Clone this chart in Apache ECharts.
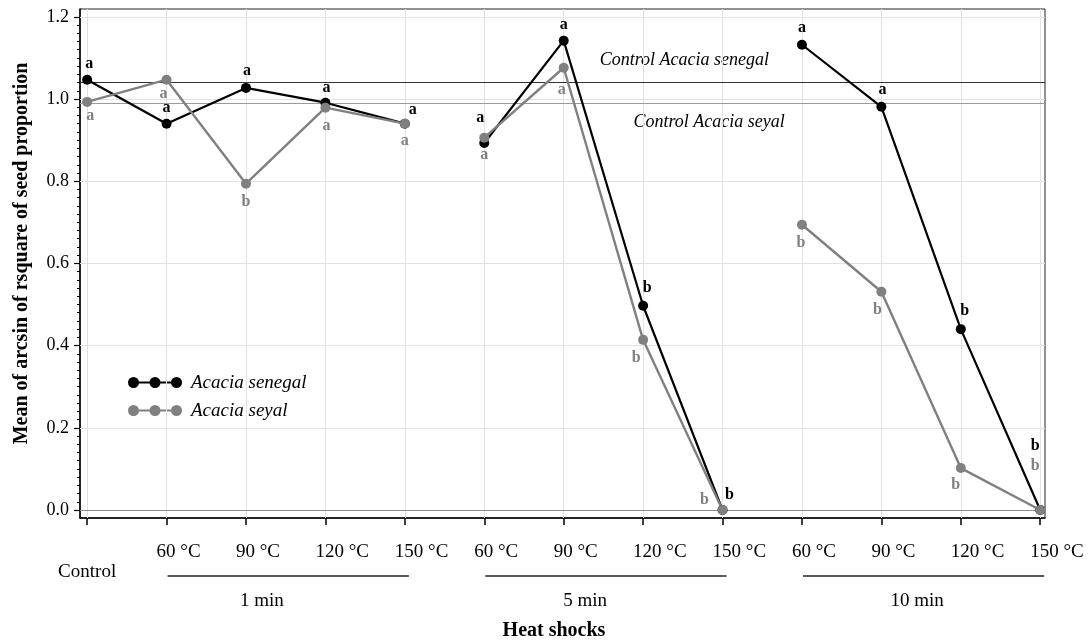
<!DOCTYPE html>
<html>
<head>
<meta charset="utf-8">
<script src="https://cdn.jsdelivr.net/npm/echarts@6/dist/echarts.min.js"></script>
<style>
html,body{margin:0;padding:0;background:#fff;}
#chart{width:1090px;height:643px;}
</style>
</head>
<body>
<div id="chart"></div>
<script>
// ---- data ----
const categories = ['Control','60 °C','90 °C','120 °C','150 °C','60 °C','90 °C','120 °C','150 °C','60 °C','90 °C','120 °C','150 °C'];
const groupNames = ['1 min','5 min','10 min'];
const groupRanges = [[0,4],[5,8],[9,12]];           // category index ranges of the connected lines
const groupLabelRanges = [[1,4],[5,8],[9,12]];      // categories under each group bar
const senegal = [1.047,0.94,1.027,0.991,0.94, 0.893,1.142,0.497,0.0, 1.132,0.981,0.44,0.0];
const seyal   = [0.993,1.047,0.794,0.979,0.94, 0.906,1.076,0.414,0.0, 0.694,0.531,0.102,0.0];
const senegalLetters = ['a','a','a','a','a','a','a','b','b','a','a','b','b'];
const seyalLetters   = ['a','a','b','a','a','a','a','b','b','b','b','b','b'];
const controlSenegal = 1.045;
const controlSeyal = 0.99;
const yTicks = [0,0.2,0.4,0.6,0.8,1.0,1.2];

// ---- style: label offsets (pixels from point centre), group label anchors ----
const senegalLabelOffsets = [[2,-16],[0,-16],[1,-17],[1,-15],[8,-14],[-4,-25],[0,-16],[4,-18],[7,-15],[0,-17],[1,-17],[4,-18],[-5,-64]];
const seyalLabelOffsets   = [[3,14],[-3,14],[0,18],[1,18],[0,17],[0,17],[-2,22],[-7,18],[-18,-10],[-1,18],[-4,18],[-5,17],[-5,-44]];
const groupLabelAnchor = [1.2, 1.27, 1.45];

const FONT = '"Liberation Serif","DejaVu Serif",serif';
const BLACK = '#000000';
const GRAY = '#808080';

const minorTicks = [];
for (let i = 0; i <= 60; i++) { if (i % 10 !== 0) minorTicks.push(+(i*0.02).toFixed(2)); }
const catIdx = categories.map((c,i)=>i);
// tick labels after Control are left aligned slightly left of their tick
const labelValues = catIdx.slice(1).map(i => i-0.126);

function buildSeries(name, values, letters, offsets, color, lw) {
  return groupRanges.map(([a,b]) => {
    const data = [];
    for (let i=a;i<=b;i++) {
      data.push({
        value:[i, values[i]],
        label:{show:true, formatter:letters[i], position:'inside', offset:offsets[i]}
      });
    }
    return {
      name: name, type:'line', data: data, symbol:'circle', symbolSize:10,
      clip:false, z:5,
      lineStyle:{color:color, width:lw}, itemStyle:{color:color},
      label:{color:color, fontFamily:FONT, fontSize:16, fontWeight:'bold'},
      emphasis:{disabled:true}, animation:false
    };
  });
}

const gridLines = [];
catIdx.forEach(i => gridLines.push({xAxis:i}));
yTicks.slice(1).forEach(v => gridLines.push({yAxis:v}));

const helper = {
  type:'line', data:[], silent:true, z:1, animation:false,
  markLine:{
    silent:true, symbol:'none', animation:false,
    label:{show:false},
    lineStyle:{color:'#e2e2e2', type:'solid', width:1},
    data: gridLines.concat([
      {yAxis:0, lineStyle:{color:'#8c8c8c', width:1.2}},
      {yAxis:controlSenegal, lineStyle:{color:'#333333', width:1.2}},
      {yAxis:controlSeyal, lineStyle:{color:'#9a9a9a', width:1.2}}
    ])
  }
};

const legendIcon = 'path://M0,5.5A5.5,5.5 0 1,0 11,5.5A5.5,5.5 0 1,0 0,5.5Z M21.5,5.5A5.5,5.5 0 1,0 32.5,5.5A5.5,5.5 0 1,0 21.5,5.5Z M43,5.5A5.5,5.5 0 1,0 54,5.5A5.5,5.5 0 1,0 43,5.5Z M5,4.4L5,6.6L49,6.6L49,4.4Z';

const chart = echarts.init(document.getElementById('chart'), null, {renderer:'canvas'});
const option = {
  animation:false,
  backgroundColor:'#ffffff',
  grid:{left:80, right:45, top:9, bottom:125, containLabel:false, outerBoundsMode:'none',
        show:true, borderColor:'#222', borderWidth:1, backgroundColor:'transparent'},
  legend:{
    left:120, top:367, orient:'vertical', itemWidth:54, itemHeight:11, itemGap:9,
    padding:[6,8,6,8], backgroundColor:'#ffffff',
    data:[
      {name:'Acacia senegal', icon:legendIcon, itemStyle:{color:BLACK}},
      {name:'Acacia seyal', icon:legendIcon, itemStyle:{color:GRAY}}
    ],
    textStyle:{fontFamily:FONT, fontSize:19, fontStyle:'italic', color:'#000', padding:[0,0,0,4]},
    selectedMode:false
  },
  xAxis:{
    type:'value', min:-0.09, max:12.06,
    axisLine:{show:true, onZero:false, lineStyle:{color:'#000', width:1.5}},
    axisTick:{show:true, length:7, customValues:catIdx, lineStyle:{color:'#000', width:1.5}},
    axisLabel:{
      customValues:labelValues, align:'left', margin:25,
      fontFamily:FONT, fontSize:19, color:'#000',
      formatter:(v)=>categories[Math.round(v)]
    },
    splitLine:{show:false}
  },
  yAxis:[{
    type:'value', min:-0.0195, max:1.219,
    name:'Mean of arcsin of rsquare of seed proportion', nameLocation:'middle', nameGap:48,
    nameTextStyle:{fontFamily:FONT, fontSize:20, fontWeight:'bold', color:'#000', padding:[0,0,0,20]},
    axisLine:{show:true, onZero:false, lineStyle:{color:'#000', width:1.5}},
    axisTick:{show:true, length:6, customValues:yTicks, lineStyle:{color:'#000', width:1.2}},
    axisLabel:{customValues:yTicks, margin:11, fontFamily:FONT, fontSize:18, color:'#000',
      formatter:(v)=>v.toFixed(1)},
    splitLine:{show:false}
  },{
    type:'value', min:-0.0195, max:1.219, position:'left',
    axisLine:{show:false, onZero:false},
    axisTick:{show:true, length:3, customValues:minorTicks, lineStyle:{color:'#000', width:1}},
    axisLabel:{show:false},
    splitLine:{show:false}
  }],
  series:[helper]
    .concat(buildSeries('Acacia senegal', senegal, senegalLetters, senegalLabelOffsets, BLACK, 2.2))
    .concat(buildSeries('Acacia seyal', seyal, seyalLetters, seyalLabelOffsets, GRAY, 2.4))
};
chart.setOption(option);

// ---- Control tick label, group bars, group names and annotations placed through the axis scale ----
const px = v => chart.convertToPixel({xAxisIndex:0}, v);
const py = v => chart.convertToPixel({yAxisIndex:0}, v);
const graphics = [];
graphics.push({type:'text', x:px(0), y:572, style:{text:categories[0], fill:'#000', font:'19px '+FONT, textAlign:'center', textVerticalAlign:'middle'}, silent:true});
groupLabelRanges.forEach(([a,b], k) => {
  graphics.push({type:'line', shape:{x1:px(a)+1, y1:576, x2:px(b)+4, y2:576}, style:{stroke:'#222', lineWidth:1.5}, silent:true});
  graphics.push({type:'text', x:px(a+groupLabelAnchor[k]), y:601, style:{text:groupNames[k], fill:'#000', font:'19px '+FONT, textAlign:'center', textVerticalAlign:'middle'}, silent:true});
});
graphics.push({type:'text', x:554, y:631, style:{text:'Heat shocks', fill:'#000', font:'bold 20px '+FONT, textAlign:'center', textVerticalAlign:'middle'}, silent:true});
graphics.push({type:'text', x:px(7.52), y:py(controlSenegal)-20, style:{text:'Control Acacia senegal', fill:'#000', font:'italic 18px '+FONT, textAlign:'center', textVerticalAlign:'middle', backgroundColor:'#fff', padding:[2,2]}, silent:true, z:3});
graphics.push({type:'text', x:px(7.83), y:py(controlSeyal)+19, style:{text:'Control Acacia seyal', fill:'#000', font:'italic 18px '+FONT, textAlign:'center', textVerticalAlign:'middle', backgroundColor:'#fff', padding:[2,2]}, silent:true, z:3});
chart.setOption({graphic:graphics});
</script>
</body>
</html>
